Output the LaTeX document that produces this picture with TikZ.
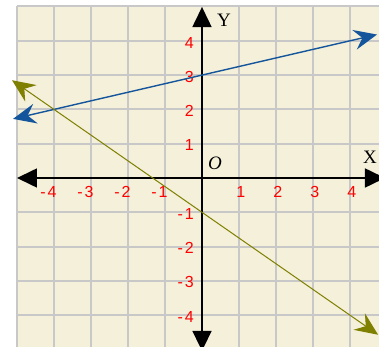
\documentclass[tikz,border=0pt]{standalone}
\usepackage{fontspec}
\setmainfont{Liberation Serif}
\newfontfamily\lblfont{Liberation Sans}
\usetikzlibrary{arrows.meta}
\definecolor{paper}{HTML}{F4F0DA}
\definecolor{gridgray}{HTML}{C8C8C8}
\definecolor{lineblue}{HTML}{14559B}
\definecolor{lineolive}{HTML}{7F7F00}
\definecolor{lblred}{HTML}{FF0000}
\begin{document}
\begin{tikzpicture}[x=37pt,y=34.3pt,
  ticklbl/.style={font=\lblfont\fontsize{16}{16}\selectfont, text=lblred, inner sep=0pt},
  axislbl/.style={font=\fontsize{19}{19}\selectfont, inner sep=0pt},
  gridline/.style={draw=gridgray, line width=2pt},
  axisline/.style={line width=1.6pt, black, {Triangle[length=20pt,width=19pt]}-{Triangle[length=20pt,width=19pt]}},
  graphline/.style={{Stealth[length=23pt,width=20pt,inset=8pt]}-{Stealth[length=23pt,width=20pt,inset=8pt]}}
]
\clip (-5.4595,-4.927) rectangle (4.7838,5.1895);
\fill[white] (-5.4595,-4.927) rectangle (4.7838,5.1895);
\fill[paper] (-5,-4.927) rectangle (4.7838,5);
\foreach \k in {-5,...,4} \draw[gridline] (\k,-4.95) -- (\k,5);
\foreach \k in {-4,...,5} \draw[gridline] (-5,\k) -- (4.8,\k);
% axes
\coordinate (xl) at (-5,0);
\coordinate (xr) at (4.946,0);
\coordinate (yt) at (0,4.985);
\coordinate (yb) at (0,-5.04);
\draw[axisline] (xl) -- (xr);
\draw[axisline] (yb) -- (yt);
% tick labels
\foreach \k in {1,...,4} \node[ticklbl, name=xp\k] at (\k+0.05,-0.41) {\k};
\foreach \k in {-4,...,-1} \node[ticklbl, name=xn\the\numexpr-\k\relax] at (\k-0.15,-0.41) {-\kern2pt\the\numexpr-\k\relax};
\foreach \k in {1,...,4} \node[ticklbl, anchor=east, name=yp\k] at (-0.216,\k-0.05) {\k};
\foreach \k in {-4,...,-1} \node[ticklbl, anchor=east, name=yn\the\numexpr-\k\relax] at (-0.216,\k-0.04) {-\kern2pt\the\numexpr-\k\relax};
% axis names
\node[axislbl] (ylab) at (0.595,4.61) {Y};
\node[axislbl] (xlab) at (4.54,0.61) {X};
\node[axislbl] (olab) at (0.35,0.44) {\itshape O};
% lines
\coordinate (bl) at (-5.108,1.723);
\coordinate (br) at (4.73,4.1825);
\coordinate (ol) at (-5.135,2.851);
\coordinate (or) at (4.76,-4.57);
\draw[graphline, lineblue, line width=1.4pt] (bl) -- (br);
\draw[graphline, lineolive, line width=1pt] (ol) -- (or);
\end{tikzpicture}
\end{document}
